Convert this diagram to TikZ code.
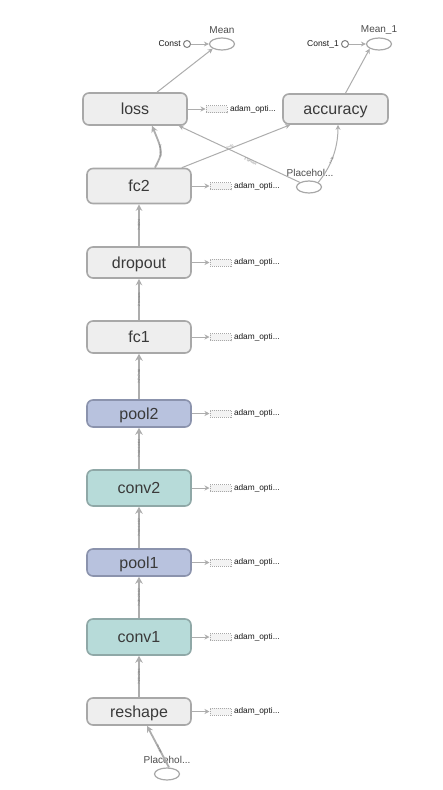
\documentclass[tikz,border=0pt]{standalone}
\usepackage{fontspec}
\setmainfont{Liberation Sans}
\usetikzlibrary{arrows.meta,shapes.geometric,calc}
\definecolor{gfill}{HTML}{EEEEEE}
\definecolor{gline}{HTML}{A8A8A8}
\definecolor{cfill}{HTML}{B7DBD9}
\definecolor{cline}{HTML}{8FA8A7}
\definecolor{pfill}{HTML}{B8C2DE}
\definecolor{pline}{HTML}{8B93AD}
\definecolor{edgec}{HTML}{ADADAD}
\definecolor{txt}{HTML}{3A3A3A}
\begin{document}
\begin{tikzpicture}[x=1pt,y=-1pt,
 op/.style={draw=gline, fill=gfill, line width=1.6pt, rounded corners=6pt, minimum width=104pt, inner sep=0pt, text=txt, font=\fontsize{16}{16}\selectfont, text height=11.5pt, text depth=0pt},
 convop/.style={op, fill=cfill, draw=cline},
 poolop/.style={op, fill=pfill, draw=pline},
 aux/.style={draw=gline, dash pattern=on 1pt off 1pt, fill=gfill!70, minimum width=21pt, minimum height=7pt, inner sep=0pt, line width=0.6pt},
 auxlbl/.style={font=\fontsize{8.3}{8.3}\selectfont, text=black!90, anchor=west, inner sep=0pt},
 ell/.style={ellipse, draw=gline, line width=1.2pt, minimum width=25pt, minimum height=12pt, inner sep=0pt},
 cst/.style={circle, draw=gray, line width=1pt, minimum size=7pt, inner sep=0pt},
 lbl/.style={font=\fontsize{10}{10}\selectfont, text=black!70, inner sep=0pt},
 clbl/.style={font=\fontsize{8.5}{8.5}\selectfont, text=black!90, inner sep=0pt, anchor=east},
 flow/.style={draw=edgec, line width=2.8pt, -{Stealth[length=7pt,width=7.5pt]}},
 mflow/.style={draw=edgec, line width=1.8pt, -{Stealth[length=6.5pt,width=6.5pt]}},
 thinflow/.style={draw=edgec, line width=1pt, -{Stealth[length=5pt,width=5pt]}},
 elbl/.style={font=\fontsize{3.2}{3.2}\selectfont, text=black!55, inner sep=0.2pt, sloped}
]
\fill[white] (0,0) rectangle (442,790);
\useasboundingbox (0,0) rectangle (442,790);

% main operation nodes
\node[op, minimum height=32pt] (loss) at (135,109) {loss};
\node[op, minimum width=105pt, minimum height=30pt] (acc) at (335.5,109) {accuracy};
\node[op, minimum height=35pt] (fc2) at (139,186) {fc2};
\node[op, minimum height=31pt] (dropout) at (139,262.5) {dropout};
\node[op, minimum height=32pt] (fc1) at (139,337) {fc1};
\node[poolop, minimum height=27pt] (pool2) at (139,413.5) {pool2};
\node[convop, minimum height=36pt] (conv2) at (139,488) {conv2};
\node[poolop, minimum height=27pt] (pool1) at (139,562.5) {pool1};
\node[convop, minimum height=36pt] (conv1) at (139,637) {conv1};
\node[op, minimum height=27pt] (reshape) at (139,711.5) {reshape};

% adam_optimizer auxiliary nodes
\foreach \n in {loss,fc2,dropout,fc1,pool2,conv2,pool1,conv1,reshape}{
  \path (\n.east) ++(28.5,0) node[aux] (a\n) {};
  \path (\n.east) ++(42,0) node[auxlbl] (t\n) {adam\_opti...};
  \draw[thinflow] (\n.east) -- (a\n.west);
}

% top constants and means
\node[ell] (mean) at (222,44) {};
\node[lbl] (meanl) at (222,30) {Mean};
\node[cst] (const) at (187,44) {};
\node[clbl] (constl) at (181,44) {Const};
\draw[thinflow] (const.east) -- (mean.west);

\node[ell] (mean1) at (379,44) {};
\node[lbl] (mean1l) at (379,30) {Mean\_1};
\node[cst] (const1) at (345,44) {};
\node[clbl] (const1l) at (339,44) {Const\_1};
\draw[thinflow] (const1.east) -- (mean1.west);

% placeholders
\node[ell] (ph1) at (309,187) {};
\node[lbl] (ph1l) at (310,173) {Placehol...};
\node[ell] (ph2) at (167,774) {};
\node[lbl] (ph2l) at (167,760) {Placehol...};

% edges to means
\draw[thinflow] ($(loss.north)+(22,0)$) -- (mean.south west);
\draw[thinflow] ($(acc.north)+(10,0)$) -- (mean1.south west);

% edges into loss / accuracy
\draw[mflow] ($(fc2.north)+(16,0)$) .. controls (163,152) .. ($(loss.south)+(17,0)$)
  node[elbl, pos=0.5] {2 tensors};
\draw[thinflow] ($(fc2.north east)+(-10,0)$) -- ($(acc.south west)+(8,0)$)
  node[elbl, pos=0.45, above=0pt] {?×10};
\draw[thinflow] (ph1.north west) -- ($(loss.south east)+(-9,0)$)
  node[elbl, pos=0.4, below=0pt] {2 tensors};
\draw[thinflow] (ph1.north east) .. controls (330,168) and (338,150) .. ($(acc.south)+(2.5,0)$)
  node[elbl, pos=0.45] {?×10};

% main flow
\draw[mflow] (dropout.north) -- (fc2.south) node[elbl, midway] {?×1024};
\draw[mflow] (fc1.north) -- (dropout.south) node[elbl, midway] {2 tensors};
\draw[flow] (pool2.north) -- (fc1.south) node[elbl, midway] {?×7×7×64};
\draw[flow] (conv2.north) -- (pool2.south) node[elbl, midway] {?×14×14×64};
\draw[flow] (pool1.north) -- (conv2.south) node[elbl, midway] {?×14×14×32};
\draw[flow] (conv1.north) -- (pool1.south) node[elbl, midway] {?×28×28×32};
\draw[flow] (reshape.north) -- (conv1.south) node[elbl, midway] {?×28×28×1};
\draw[mflow] ($(ph2.north)+(2,0)$) -- ($(reshape.south)+(8,0)$) node[elbl, pos=0.45] {?×784};
\end{tikzpicture}
\end{document}
